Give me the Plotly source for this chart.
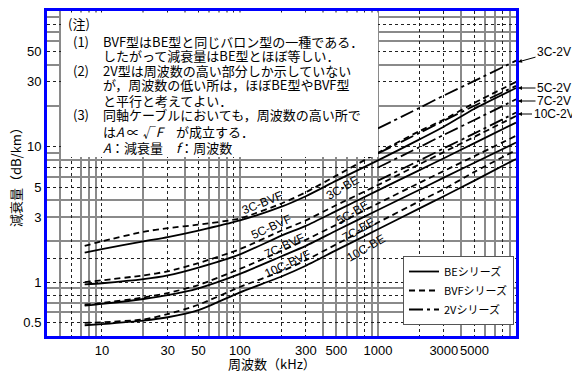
import math
import plotly.graph_objects as go

# ---------------- data ----------------
freq = [7.5, 10, 20, 30, 50, 100, 200, 300, 500, 1000, 2000, 3000, 5000, 10000]   # kHz

be_3c  = [1.65, 1.75, 2.0, 2.15, 2.4, 2.85, 3.6, 4.3, 5.6, 7.9, 11.3, 14.0, 19.0, 27.0]
be_5c  = [0.96, 0.98, 1.05, 1.12, 1.28, 1.6, 2.2, 2.6, 3.35, 4.75, 6.7, 8.2, 10.6, 15.0]
be_7c  = [0.67, 0.69, 0.75, 0.8, 0.9, 1.15, 1.55, 1.85, 2.4, 3.4, 4.8, 5.9, 7.6, 10.7]
be_10c = [0.48, 0.49, 0.52, 0.55, 0.62, 0.84, 1.1, 1.32, 1.72, 2.45, 3.5, 4.3, 5.6, 8.1]

bvf_3c  = [1.85, 2.0, 2.35, 2.5, 2.65, 2.95, 3.8, 4.6, 6.1, 9.0, 13.0, 15.8, 21.0, 30.0]
bvf_5c  = [1.0, 1.03, 1.12, 1.2, 1.38, 1.75, 2.4, 2.85, 3.7, 5.2, 7.4, 9.1, 11.8, 16.8]
bvf_7c  = [0.68, 0.70, 0.77, 0.83, 0.95, 1.25, 1.7, 2.05, 2.65, 3.8, 5.4, 6.6, 8.5, 12.0]
bvf_10c = [0.5, 0.505, 0.53, 0.58, 0.68, 0.92, 1.2, 1.45, 1.9, 2.75, 3.95, 4.85, 6.5, 9.4]

freq_2v = [1000, 2000, 3000, 5000, 10000]
v2_3c  = [13.6, 19.3, 23.8, 30.5, 43.0]
v2_5c  = [8.9, 12.6, 15.5, 20.0, 28.0]
v2_7c  = [7.0, 9.9, 12.2, 15.7, 22.3]
v2_10c = [5.6, 7.9, 9.7, 12.5, 17.8]

x_ticks = [10, 30, 50, 100, 300, 500, 1000, 3000, 5000]
x_ticktext = ["10", "30", "50", "100", "300", "500", "1000", "3000", "5000"]
y_ticks = [0.5, 1, 3, 5, 10, 30, 50]
y_ticktext = ["0.5", "1", "3", "5", "10", "30", "50"]

x_grid_solid = [5, 7, 8, 9, 20, 40, 60, 70, 80, 100, 400, 500, 600, 700, 900, 1000, 4000, 6000, 7000, 9000]
x_grid_dot = [6, 10, 30, 50, 90, 200, 300, 800, 2000, 3000, 5000, 8000]
y_grid_solid = [0.6, 0.7, 0.9, 2, 3, 4, 6, 8, 9, 20, 40, 60, 70, 90]
y_grid_dot = [0.5, 0.8, 1, 1.5, 5, 7, 10, 30, 50, 80]

# ---------------- geometry helpers ----------------
# the page body has an 8px margin, so the figure is 8px smaller and
# positions below are given in page pixels
OFF = 8
W, H = 580 - OFF, 380 - OFF
PL, PR, PT, PB = 47, 516, 11, 336          # plot area in page pixels
L, T = PL - OFF, PT - OFF
R, B = (580 - PR), (380 - PB)
PW, PH = PR - PL, PB - PT
def px(x): return (x - PL) / PW
def py(y): return (PB - y) / PH

XR = [math.log10(4), 4.0]
YR = [math.log10(0.4), 2.0]

JP = "Noto Sans CJK JP"
SANS = "Liberation Sans, Arial, sans-serif"

fig = go.Figure()

def add(xs, ys, dash, name=None, show=False):
    fig.add_trace(go.Scatter(
        x=xs, y=ys, mode="lines", name=name, showlegend=show,
        line=dict(color="black", width=1.8, dash=dash, shape="spline", smoothing=0.6),
        hoverinfo="skip"))

DASH_BVF = "6px,4px"
DASH_2V = "14px,4px,3px,4px"

add(freq, be_3c, "solid", "BEシリーズ", True)
add(freq, be_5c, "solid")
add(freq, be_7c, "solid")
add(freq, be_10c, "solid")
add(freq, bvf_3c, DASH_BVF, "BVFシリーズ", True)
add(freq, bvf_5c, DASH_BVF)
add(freq, bvf_7c, DASH_BVF)
add(freq, bvf_10c, DASH_BVF)
add(freq_2v, v2_3c, DASH_2V, "2Vシリーズ", True)
add(freq_2v, v2_5c, DASH_2V)
add(freq_2v, v2_7c, DASH_2V)
add(freq_2v, v2_10c, DASH_2V)

# empty traces that carry the two overlay grids
fig.add_trace(go.Scatter(x=[None], y=[None], xaxis="x2", yaxis="y2", showlegend=False, hoverinfo="skip"))
fig.add_trace(go.Scatter(x=[None], y=[None], xaxis="x3", yaxis="y3", showlegend=False, hoverinfo="skip"))

grid_common = dict(type="log", showticklabels=False, ticks="", showline=False, zeroline=False,
                   automargin=False)

fig.update_layout(
    width=W, height=H,
    margin=dict(l=L, r=R, t=T, b=B, pad=0),
    paper_bgcolor="white", plot_bgcolor="white",
    xaxis=dict(type="log", range=XR, tickmode="array", tickvals=x_ticks, ticktext=x_ticktext,
               showgrid=False, zeroline=False, ticks="", showline=True, mirror=True,
               linecolor="#0000ff", linewidth=3, automargin=False, tickangle=0,
               tickfont=dict(family=SANS, size=13, color="black")),
    yaxis=dict(type="log", range=YR, tickmode="array", tickvals=y_ticks, ticktext=y_ticktext,
               showgrid=False, zeroline=False, ticks="", showline=True, mirror=True,
               linecolor="#0000ff", linewidth=3, automargin=False,
               tickfont=dict(family=SANS, size=13, color="black")),
    xaxis2=dict(overlaying="x", anchor="y2", range=XR, tickmode="array", tickvals=x_grid_solid,
                showgrid=True, gridcolor="#8a8a8a", gridwidth=2, **grid_common),
    yaxis2=dict(overlaying="y", anchor="x2", range=YR, tickmode="array", tickvals=y_grid_solid,
                showgrid=True, gridcolor="#8a8a8a", gridwidth=2, **grid_common),
    xaxis3=dict(overlaying="x", anchor="y3", range=XR, tickmode="array", tickvals=x_grid_dot,
                showgrid=True, gridcolor="#222222", gridwidth=1, griddash="dot", **grid_common),
    yaxis3=dict(overlaying="y", anchor="x3", range=YR, tickmode="array", tickvals=y_grid_dot,
                showgrid=True, gridcolor="#222222", gridwidth=1, griddash="dot", **grid_common),
    legend=dict(x=px(403), y=py(256), xanchor="left", yanchor="top",
                bgcolor="white", bordercolor="#555555", borderwidth=1,
                font=dict(family=JP, size=11, color="black"),
                tracegroupgap=0, itemwidth=30, traceorder="normal"),
    showlegend=True,
)

# white box behind the note (covers the grid; no curve passes through it)
fig.add_shape(type="rect", xref="paper", yref="paper",
              x0=px(61), x1=px(378), y0=py(157), y1=py(12.5),
              fillcolor="white", line=dict(width=0), layer="above")

annos = []
def note(x, y, text, size=13):
    annos.append(dict(x=px(x), y=py(y), xref="paper", yref="paper", text=text,
                      showarrow=False, xanchor="left", yanchor="middle",
                      font=dict(family=JP, size=size, color="black")))

note(66, 23, "(注)")
note(71, 41, "(1)")
note(101, 41, "BVF型はBE型と同じバロン型の一種である．")
note(101, 56, "したがって減衰量はBE型とほぼ等しい．")
note(71, 70, "(2)")
note(101, 70, "2V型は周波数の高い部分しか示していない")
note(101, 85, "が，周波数の低い所は，ほぼBE型やBVF型")
note(101, 100, "と平行と考えてよい．")
note(71, 115, "(3)")
note(101, 115, "同軸ケーブルにおいても，周波数の高い所で")
note(101, 131, "は<i>A</i> ∝ √<i>F</i>　が成立する．")
note(101, 147, "<i>A</i>：減衰量　<i>f</i>：周波数")

# curve labels
def clabel(x, y, text, ang):
    annos.append(dict(x=px(x), y=py(y), xref="paper", yref="paper", text=text,
                      showarrow=False, textangle=ang, xanchor="center", yanchor="middle",
                      font=dict(family=SANS, size=12, color="black")))

clabel(262, 203, "3C-BVF", -22)
clabel(271, 227, "5C-BVF", -24)
clabel(284, 246, "7C-BVF", -25)
clabel(287, 264, "10C-BVF", -25)
clabel(342, 188, "3C-BE", -30)
clabel(352, 213, "5C-BE", -30)
clabel(358, 230, "7C-BE", -30)
clabel(366, 248, "10C-BE", -30)

# right side labels with leaders
def rlabel(ytip, ytext, text):
    annos.append(dict(x=px(518), y=py(ytip), xref="paper", yref="paper", text=text,
                      showarrow=True, arrowhead=2, arrowsize=0.8, arrowwidth=1, arrowcolor="black",
                      ax=36, ay=ytext - ytip, xanchor="center", yanchor="middle",
                      font=dict(family=SANS, size=12, color="black")))

rlabel(62, 52, "3C-2V")
rlabel(88, 88, "5C-2V")
rlabel(101, 101, "7C-2V")
rlabel(114, 114, "10C-2V")

# axis titles
annos.append(dict(x=px(16), y=py(174), xref="paper", yref="paper", text="減衰量（dB/km）",
                  textangle=-90, showarrow=False, xanchor="center", yanchor="middle",
                  font=dict(family=JP, size=13, color="black")))
annos.append(dict(x=px(272), y=py(363), xref="paper", yref="paper", text="周波数（kHz）",
                  showarrow=False, xanchor="center", yanchor="middle",
                  font=dict(family=JP, size=13, color="black")))

fig.update_layout(annotations=annos)

fig.write_html("out.html")
